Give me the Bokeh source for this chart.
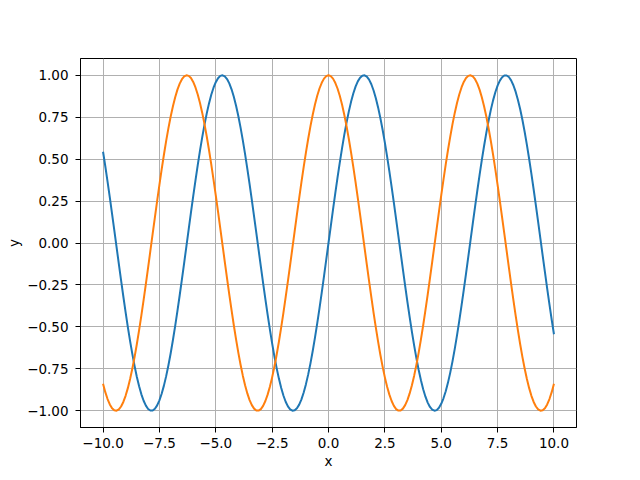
from bokeh.plotting import figure
from bokeh.models import FixedTicker, CustomJSTickFormatter, Range1d
from bokeh.embed import file_html
from bokeh.resources import INLINE

x_values = [round(-10 + 0.1 * i, 1) for i in range(201)]

sin_values = [
    0.5440, 0.4575, 0.3665, 0.2718, 0.1743, 0.0752, -0.0248, -0.1245, -0.2229, -0.3190,
    -0.4121, -0.5010, -0.5849, -0.6630, -0.7344, -0.7985, -0.8546, -0.9022, -0.9407, -0.9699,
    -0.9894, -0.9989, -0.9985, -0.9882, -0.9679, -0.9380, -0.8987, -0.8504, -0.7937, -0.7290,
    -0.6570, -0.5784, -0.4941, -0.4048, -0.3115, -0.2151, -0.1165, -0.0168, 0.0831, 0.1822,
    0.2794, 0.3739, 0.4646, 0.5507, 0.6313, 0.7055, 0.7728, 0.8323, 0.8835, 0.9258,
    0.9589, 0.9825, 0.9962, 0.9999, 0.9937, 0.9775, 0.9516, 0.9162, 0.8716, 0.8183,
    0.7568, 0.6878, 0.6119, 0.5298, 0.4425, 0.3508, 0.2555, 0.1577, 0.0584, -0.0416,
    -0.1411, -0.2392, -0.3350, -0.4274, -0.5155, -0.5985, -0.6755, -0.7457, -0.8085, -0.8632,
    -0.9093, -0.9463, -0.9738, -0.9917, -0.9996, -0.9975, -0.9854, -0.9636, -0.9320, -0.8912,
    -0.8415, -0.7833, -0.7174, -0.6442, -0.5646, -0.4794, -0.3894, -0.2955, -0.1987, -0.0998,
    0.0000, 0.0998, 0.1987, 0.2955, 0.3894, 0.4794, 0.5646, 0.6442, 0.7174, 0.7833,
    0.8415, 0.8912, 0.9320, 0.9636, 0.9854, 0.9975, 0.9996, 0.9917, 0.9738, 0.9463,
    0.9093, 0.8632, 0.8085, 0.7457, 0.6755, 0.5985, 0.5155, 0.4274, 0.3350, 0.2392,
    0.1411, 0.0416, -0.0584, -0.1577, -0.2555, -0.3508, -0.4425, -0.5298, -0.6119, -0.6878,
    -0.7568, -0.8183, -0.8716, -0.9162, -0.9516, -0.9775, -0.9937, -0.9999, -0.9962, -0.9825,
    -0.9589, -0.9258, -0.8835, -0.8323, -0.7728, -0.7055, -0.6313, -0.5507, -0.4646, -0.3739,
    -0.2794, -0.1822, -0.0831, 0.0168, 0.1165, 0.2151, 0.3115, 0.4048, 0.4941, 0.5784,
    0.6570, 0.7290, 0.7937, 0.8504, 0.8987, 0.9380, 0.9679, 0.9882, 0.9985, 0.9989,
    0.9894, 0.9699, 0.9407, 0.9022, 0.8546, 0.7985, 0.7344, 0.6630, 0.5849, 0.5010,
    0.4121, 0.3190, 0.2229, 0.1245, 0.0248, -0.0752, -0.1743, -0.2718, -0.3665, -0.4575,
    -0.5440,
]

cos_values = [
    -0.8391, -0.8892, -0.9304, -0.9624, -0.9856, -0.9972, -0.9999, -0.9922, -0.9748, -0.9477,
    -0.9111, -0.8654, -0.8111, -0.7486, -0.6787, -0.6020, -0.5193, -0.4314, -0.3392, -0.2435,
    -0.1455, -0.0460, 0.0540, 0.1530, 0.2513, 0.3466, 0.4385, 0.5261, 0.6084, 0.6845,
    0.7539, 0.8157, 0.8694, 0.9144, 0.9502, 0.9766, 0.9931, 0.9999, 0.9965, 0.9833,
    0.9602, 0.9275, 0.8855, 0.8347, 0.7756, 0.7087, 0.6347, 0.5544, 0.4685, 0.3780,
    0.2837, 0.1865, 0.0875, -0.0124, -0.1122, -0.2108, -0.3073, -0.4008, -0.4903, -0.5748,
    -0.6536, -0.7259, -0.7910, -0.8481, -0.8968, -0.9365, -0.9668, -0.9875, -0.9983, -0.9991,
    -0.9900, -0.9710, -0.9422, -0.9041, -0.8569, -0.8011, -0.7374, -0.6663, -0.5885, -0.5048,
    -0.4161, -0.3233, -0.2272, -0.1288, -0.0292, 0.0707, 0.1700, 0.2675, 0.3624, 0.4536,
    0.5403, 0.6216, 0.6967, 0.7648, 0.8253, 0.8776, 0.9211, 0.9553, 0.9801, 0.9950,
    1.0000, 0.9950, 0.9801, 0.9553, 0.9211, 0.8776, 0.8253, 0.7648, 0.6967, 0.6216,
    0.5403, 0.4536, 0.3624, 0.2675, 0.1700, 0.0707, -0.0292, -0.1288, -0.2272, -0.3233,
    -0.4161, -0.5048, -0.5885, -0.6663, -0.7374, -0.8011, -0.8569, -0.9041, -0.9422, -0.9710,
    -0.9900, -0.9991, -0.9983, -0.9875, -0.9668, -0.9365, -0.8968, -0.8481, -0.7910, -0.7259,
    -0.6536, -0.5748, -0.4903, -0.4008, -0.3073, -0.2108, -0.1122, -0.0124, 0.0875, 0.1865,
    0.2837, 0.3780, 0.4685, 0.5544, 0.6347, 0.7087, 0.7756, 0.8347, 0.8855, 0.9275,
    0.9602, 0.9833, 0.9965, 0.9999, 0.9931, 0.9766, 0.9502, 0.9144, 0.8694, 0.8157,
    0.7539, 0.6845, 0.6084, 0.5261, 0.4385, 0.3466, 0.2513, 0.1530, 0.0540, -0.0460,
    -0.1455, -0.2435, -0.3392, -0.4314, -0.5193, -0.6020, -0.6787, -0.7486, -0.8111, -0.8654,
    -0.9111, -0.9477, -0.9748, -0.9922, -0.9999, -0.9972, -0.9856, -0.9624, -0.9304, -0.8892,
    -0.8391,
]

x_ticks = [-10.0, -7.5, -5.0, -2.5, 0.0, 2.5, 5.0, 7.5, 10.0]
y_ticks = [-1.0, -0.75, -0.5, -0.25, 0.0, 0.25, 0.5, 0.75, 1.0]

p = figure(frame_width=496, frame_height=369, output_backend="svg", toolbar_location=None,
           x_range=Range1d(-11, 11), y_range=Range1d(-1.1, 1.1),
           min_border_left=80, min_border_right=60, min_border_top=58, min_border_bottom=50)
p.background_fill_color = "white"
p.border_fill_color = "white"
p.outline_line_color = "black"
p.outline_line_width = 1

p.line(x_values, sin_values, line_color="#1f77b4", line_width=2, line_join="round")
p.line(x_values, cos_values, line_color="#ff7f0e", line_width=2, line_join="round")

p.xaxis.ticker = FixedTicker(ticks=x_ticks)
p.yaxis.ticker = FixedTicker(ticks=y_ticks)
p.xaxis.formatter = CustomJSTickFormatter(code="return tick.toFixed(1).replace('-', '\u2212');")
p.yaxis.formatter = CustomJSTickFormatter(code="return tick.toFixed(2).replace('-', '\u2212');")

for ax in (p.xaxis[0], p.yaxis[0]):
    ax.axis_line_color = "black"
    ax.major_tick_line_color = "black"
    ax.major_tick_out = 5
    ax.major_tick_in = 0
    ax.minor_tick_line_color = None
    ax.major_label_text_font = "DejaVu Sans"
    ax.major_label_text_font_size = "13.5px"
    ax.major_label_text_color = "black"
    ax.axis_label_text_font = "DejaVu Sans"
    ax.axis_label_text_font_size = "13.5px"
    ax.axis_label_text_font_style = "normal"
    ax.axis_label_text_color = "black"

p.xaxis.axis_label = "x"
p.yaxis.axis_label = "y"
p.yaxis.major_label_standoff = 7
p.xaxis.major_label_standoff = 5
p.xaxis.axis_label_standoff = 2
p.yaxis.axis_label_standoff = 2

p.xgrid.ticker = FixedTicker(ticks=x_ticks)
p.ygrid.ticker = FixedTicker(ticks=y_ticks)
p.grid.grid_line_color = "#b0b0b0"
p.grid.grid_line_width = 1
p.grid.grid_line_alpha = 1.0

open("out.html", "w").write(file_html(p, INLINE))
